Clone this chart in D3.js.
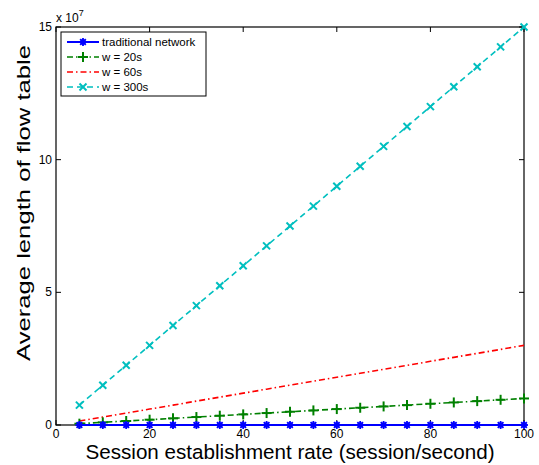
<!DOCTYPE html>
<html><head><meta charset="utf-8">
<script src="https://cdn.jsdelivr.net/npm/d3@7"></script>
<style>body{margin:0;background:#fff}svg{display:block;font-family:"Liberation Sans",Arial,sans-serif}</style>
</head><body><svg id="c" width="539" height="465"></svg>
<script>
const rates = [5,10,15,20,25,30,35,40,45,50,55,60,65,70,75,80,85,90,95,100];
const traditional = [0,0,0,0,0,0,0,0,0,0,0,0,0,0,0,0,0,0,0,0];
const w20 = [5e5,1e6,1.5e6,2e6,2.5e6,3e6,3.5e6,4e6,4.5e6,5e6,5.5e6,6e6,6.5e6,7e6,7.5e6,8e6,8.5e6,9e6,9.5e6,1e7];
const w60 = [1.5e6,3e6,4.5e6,6e6,7.5e6,9e6,1.05e7,1.2e7,1.35e7,1.5e7,1.65e7,1.8e7,1.95e7,2.1e7,2.25e7,2.4e7,2.55e7,2.7e7,2.85e7,3e7];
const w300 = [7.5e6,1.5e7,2.25e7,3e7,3.75e7,4.5e7,5.25e7,6e7,6.75e7,7.5e7,8.25e7,9e7,9.75e7,1.05e8,1.125e8,1.2e8,1.275e8,1.35e8,1.425e8,1.5e8];
const xTicks = [0,20,40,60,80,100];
const yTicks = [0,5e7,10e7,15e7];
const seriesNames = ["traditional network","w = 20s","w = 60s","w = 300s"];

const series = [
  {name:seriesNames[0], vals:traditional, color:"#0000ff", dash:null, marker:"star", width:2},
  {name:seriesNames[1], vals:w20, color:"#008000", dash:"6,3,1.5,3", marker:"plus", width:1.6},
  {name:seriesNames[2], vals:w60, color:"#ff0000", dash:"6,3,1.5,3", marker:null, width:1.6},
  {name:seriesNames[3], vals:w300, color:"#00bfbf", dash:"6,4", marker:"cross", width:1.6}
];

const svg = d3.select("#c");
const L=56, R=524, T=27, B=425;
const x = d3.scaleLinear().domain([0,100]).range([L,R]);
const y = d3.scaleLinear().domain([0,15e7]).range([B,T]);

svg.append("rect").attr("x",L).attr("y",T).attr("width",R-L).attr("height",B-T)
  .attr("fill","none").attr("stroke","#000").attr("stroke-width",1.2);

const tl = 5;
const g = svg.append("g").attr("stroke","#000").attr("stroke-width",1);
xTicks.forEach(t=>{
  g.append("line").attr("x1",x(t)).attr("x2",x(t)).attr("y1",B).attr("y2",B-tl);
  g.append("line").attr("x1",x(t)).attr("x2",x(t)).attr("y1",T).attr("y2",T+tl);
});
yTicks.forEach(t=>{
  g.append("line").attr("x1",L).attr("x2",L+tl).attr("y1",y(t)).attr("y2",y(t));
  g.append("line").attr("x1",R).attr("x2",R-tl).attr("y1",y(t)).attr("y2",y(t));
});
svg.selectAll(".xl").data(xTicks).join("text").attr("x",d=>x(d)).attr("y",B+13)
  .attr("text-anchor","middle").attr("font-size",12).text(d=>d);
svg.selectAll(".yl").data(yTicks).join("text").attr("x",L-4).attr("y",d=>y(d)+4)
  .attr("text-anchor","end").attr("font-size",12).text(d=>d/1e7);
const ex = svg.append("text").attr("x",L).attr("y",T-5).attr("font-size",12);
ex.append("tspan").text("x 10");
ex.append("tspan").attr("dy",-6).attr("font-size",9).text("7");

svg.append("text").attr("x",(L+R)/2).attr("y",459).attr("text-anchor","middle")
  .attr("font-size",20.5).attr("textLength",409).attr("lengthAdjust","spacingAndGlyphs")
  .text("Session establishment rate (session/second)");
svg.append("text").attr("transform",`translate(29.5,203) rotate(-90)`).attr("text-anchor","middle")
  .attr("font-size",19).attr("textLength",316).attr("lengthAdjust","spacingAndGlyphs")
  .text("Average length of flow table");

function drawMarker(sel, type, cx, cy, color){
  if(type==="star"){
    const r=4;
    sel.append("circle").attr("cx",cx).attr("cy",cy).attr("r",2.8).attr("fill",color);
    [0,45,90,135].forEach(a=>{
      const dx=r*Math.cos(a*Math.PI/180), dy=r*Math.sin(a*Math.PI/180);
      sel.append("line").attr("x1",cx-dx).attr("x2",cx+dx).attr("y1",cy-dy).attr("y2",cy+dy)
        .attr("stroke",color).attr("stroke-width",1.8);
    });
  } else if(type==="plus"){
    const r=5;
    sel.append("line").attr("x1",cx-r).attr("x2",cx+r).attr("y1",cy).attr("y2",cy).attr("stroke",color).attr("stroke-width",2);
    sel.append("line").attr("x1",cx).attr("x2",cx).attr("y1",cy-r).attr("y2",cy+r).attr("stroke",color).attr("stroke-width",2);
  } else if(type==="cross"){
    const r=3.5;
    sel.append("line").attr("x1",cx-r).attr("x2",cx+r).attr("y1",cy-r).attr("y2",cy+r).attr("stroke",color).attr("stroke-width",2);
    sel.append("line").attr("x1",cx-r).attr("x2",cx+r).attr("y1",cy+r).attr("y2",cy-r).attr("stroke",color).attr("stroke-width",2);
  }
}

const line = d3.line().x(d=>x(d[0])).y(d=>y(d[1]));
[...series].reverse().forEach(s=>{
  const pts = rates.map((r,i)=>[r,s.vals[i]]);
  svg.append("path").attr("d",line(pts)).attr("fill","none").attr("stroke",s.color)
    .attr("stroke-width",s.width).attr("stroke-dasharray",s.dash);
  if(s.marker){
    const mg = svg.append("g");
    pts.forEach(p=>drawMarker(mg,s.marker,x(p[0]),y(p[1]),s.color));
  }
});

const lg = svg.append("g");
lg.append("rect").attr("x",61).attr("y",32).attr("width",145).attr("height",64)
  .attr("fill","#fff").attr("stroke","#000").attr("stroke-width",1);
series.forEach((s,i)=>{
  const yy = 42 + i*15;
  lg.append("line").attr("x1",67).attr("x2",99).attr("y1",yy).attr("y2",yy)
    .attr("stroke",s.color).attr("stroke-width",s.width).attr("stroke-dasharray",s.dash);
  if(s.marker) drawMarker(lg,s.marker,83,yy,s.color);
  lg.append("text").attr("x",102).attr("y",yy+4).attr("font-size",11.5).text(s.name);
});
</script></body></html>
